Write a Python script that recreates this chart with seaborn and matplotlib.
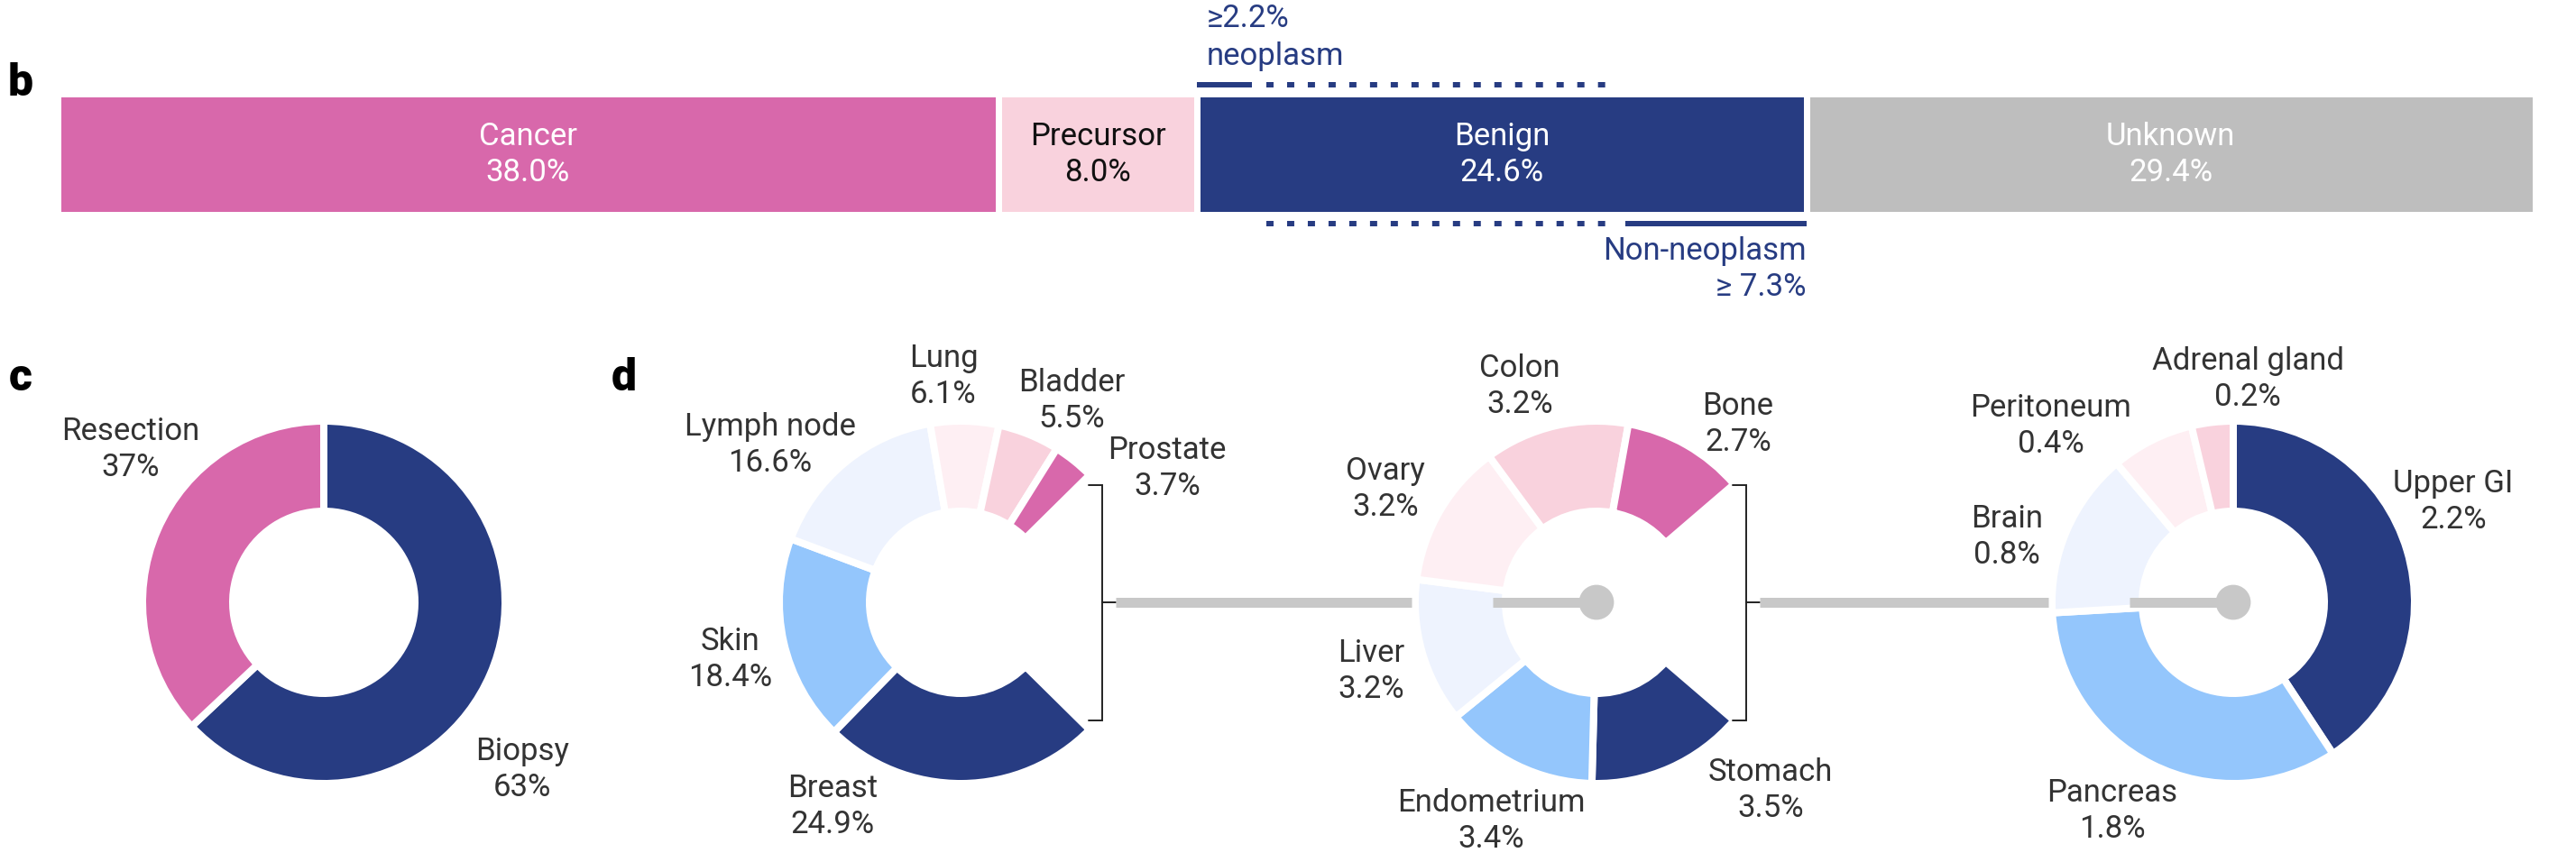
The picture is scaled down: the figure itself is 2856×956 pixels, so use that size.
import numpy as np
import pandas as pd
import matplotlib.pyplot as plt
from matplotlib.patches import Circle
import seaborn as sns

# panel b: diagnosis category
status = ["Cancer", "Precursor", "Benign", "Unknown"]
status_pct = [38.0, 8.0, 24.6, 29.4]
neoplasm_pct = 2.2
non_neoplasm_pct = 7.3

# panel c: specimen type
specimen = ["Biopsy", "Resection"]
specimen_pct = [63, 37]

# panel d: organ, each ring opens up the gap of the one before
organs_1 = ["Breast", "Skin", "Lymph node", "Lung", "Bladder", "Prostate"]
organs_1_pct = [24.9, 18.4, 16.6, 6.1, 5.5, 3.7]
organs_2 = ["Stomach", "Endometrium", "Liver", "Ovary", "Colon", "Bone"]
organs_2_pct = [3.5, 3.4, 3.2, 3.2, 3.2, 2.7]
organs_3 = ["Upper GI", "Pancreas", "Brain", "Peritoneum", "Adrenal gland"]
organs_3_pct = [2.2, 1.8, 0.8, 0.4, 0.2]

# colours
PINK = "#D868AB"
LPINK = "#F9D2DD"
VLPINK = "#FEEFF3"
NAVY = "#273C82"
LBLUE = "#94C6FC"
VLBLUE = "#EEF3FE"
GREY = "#BEBEBE"
LINE_GREY = "#C8C8C8"
TXT = "#333333"
status_colors = [PINK, LPINK, NAVY, GREY]
status_text = ["white", "#111111", "white", "white"]
ring_colors = [NAVY, LBLUE, VLBLUE, VLPINK, LPINK, PINK]

# layout (pixels, from top-left)
W, H = 2856, 956
DPI = 200
FS = 12.5
LINE = 40
R_OUT, R_IN = 197, 105
CY = 668
centers = {"c": 359, "d1": 1065, "d2": 1770, "d3": 2476}
label_pos = {
    "Resection": (145, 488), "Biopsy": (579, 843),
    "Breast": (923, 884), "Skin": (810, 721), "Lymph node": (854, 483),
    "Lung": (1046, 407), "Bladder": (1188, 434), "Prostate": (1294, 509),
    "Stomach": (1963, 866), "Endometrium": (1653, 900), "Liver": (1520, 734),
    "Ovary": (1536, 532), "Colon": (1685, 418), "Bone": (1927, 460),
    "Upper GI": (2720, 546), "Pancreas": (2342, 889), "Brain": (2225, 585),
    "Peritoneum": (2274, 462), "Adrenal gland": (2492, 410),
}
BAR_L, BAR_R, BAR_T, BAR_B = 67, 2807, 107, 234
BAR_EDGE = 7
RING_EDGE = 8


def pt(px):
    return px * 72 / DPI


sns.set_theme(style="white")
plt.rcParams["font.family"] = ["Roboto", "DejaVu Sans"]

fig = plt.figure(figsize=(W / DPI, H / DPI), dpi=DPI)
ax = fig.add_axes([0, 0, 1, 1])

# ---- panel b: stacked bar (seaborn, overlaid cumulative bars) ----
e = BAR_EDGE / 2
ax_b = fig.add_axes([(BAR_L - e) / W, (H - BAR_B - e) / H,
                     (BAR_R - BAR_L + 2 * e) / W, (BAR_B - BAR_T + 2 * e) / H])
bar = pd.DataFrame({"status": status, "pct": status_pct,
                    "color": status_colors, "tcol": status_text})
bar["right"] = bar["pct"].cumsum()
bar["mid"] = bar["right"] - bar["pct"] / 2
for _, row in bar.iloc[::-1].iterrows():
    sns.barplot(x=[row["right"]], y=["all"], orient="h", color=row["color"],
                saturation=1, width=1, edgecolor="white",
                linewidth=pt(BAR_EDGE), ax=ax_b)
ax_b.set_xlim(0, bar["right"].iloc[-1])
ax_b.set_ylim(0.5, -0.5)
ax_b.axis("off")

top_px, bot_px = BAR_T - e, BAR_B + e


def fy(px):
    return (bot_px - px) / (bot_px - top_px)


tb = ax_b.get_xaxis_transform()
for _, row in bar.iterrows():
    ax_b.text(row["mid"], fy(161), row["status"], transform=tb, ha="center",
              va="baseline", color=row["tcol"], fontsize=FS)
    ax_b.text(row["mid"], fy(161 + LINE), f"{row['pct']:.1f}%", transform=tb,
              ha="center", va="baseline", color=row["tcol"], fontsize=FS)

benign = bar.set_index("status").loc["Benign"]
ben_r = benign["right"]
ben_l = ben_r - benign["pct"]
gap = 0.6
dot = (0, (1.33, 2.5))
lw_ann = pt(6)
ax_b.plot([ben_l, ben_l + neoplasm_pct], [fy(94)] * 2, transform=tb, color=NAVY,
          lw=lw_ann, solid_capstyle="butt", clip_on=False)
ax_b.plot([ben_l + neoplasm_pct + gap, ben_r - non_neoplasm_pct - gap], [fy(94)] * 2,
          transform=tb, color=NAVY, lw=lw_ann, ls=dot, clip_on=False)
ax_b.plot([ben_l + neoplasm_pct + gap, ben_r - non_neoplasm_pct - gap], [fy(248)] * 2,
          transform=tb, color=NAVY, lw=lw_ann, ls=dot, clip_on=False)
ax_b.plot([ben_r - non_neoplasm_pct, ben_r], [fy(248)] * 2, transform=tb, color=NAVY,
          lw=lw_ann, solid_capstyle="butt", clip_on=False)
ax_b.text(ben_l + 0.4, fy(30), f"≥{neoplasm_pct}%", transform=tb, ha="left",
          va="baseline", color=NAVY, fontsize=FS, clip_on=False)
ax_b.text(ben_l + 0.4, fy(72), "neoplasm", transform=tb, ha="left",
          va="baseline", color=NAVY, fontsize=FS, clip_on=False)
ax_b.text(ben_r, fy(288), "Non-neoplasm", transform=tb, ha="right",
          va="baseline", color=NAVY, fontsize=FS, clip_on=False)
ax_b.text(ben_r, fy(328), f"≥ {non_neoplasm_pct}%", transform=tb, ha="right",
          va="baseline", color=NAVY, fontsize=FS, clip_on=False)

# ---- donuts ----
wp = dict(width=R_OUT - R_IN + RING_EDGE, edgecolor="white", linewidth=pt(RING_EDGE))
rad = R_OUT + RING_EDGE / 2


def donut(vals, total, cx, start, colors):
    frac = np.array(vals, dtype=float) / total
    full = frac.sum() > 0.999
    ax.pie(frac, normalize=full, startangle=start, counterclock=False,
           colors=colors, radius=rad, center=(cx, H - CY), wedgeprops=wp,
           frame=True)


def two_lines(name, pct_txt):
    x, y = label_pos[name]
    ax.text(x, H - y, name, ha="center", va="baseline", color=TXT, fontsize=FS)
    ax.text(x, H - y - LINE, pct_txt, ha="center", va="baseline", color=TXT, fontsize=FS)


donut(specimen_pct, sum(specimen_pct), centers["c"], 90, [NAVY, PINK])
for n, v in zip(specimen, specimen_pct):
    two_lines(n, f"{v}%")

rest_1 = 100 - sum(organs_1_pct)
donut(organs_1_pct, 100, centers["d1"], -rest_1 / 100 * 180, ring_colors)
rest_2 = rest_1 - sum(organs_2_pct)
donut(organs_2_pct, rest_1, centers["d2"], -rest_2 / rest_1 * 180, ring_colors)
donut(organs_3_pct, sum(organs_3_pct), centers["d3"], 90, ring_colors[:5])
for names, vals in [(organs_1, organs_1_pct), (organs_2, organs_2_pct), (organs_3, organs_3_pct)]:
    for n, v in zip(names, vals):
        two_lines(n, f"{v}%")


# brackets and connectors
def bracket(x, top, bot):
    ax.plot([x - 15, x, x, x - 15], [H - top, H - top, H - bot, H - bot],
            color="#222222", lw=0.7, solid_joinstyle="miter")
    ax.plot([x, x + 15], [H - CY] * 2, color="#222222", lw=0.7)


def connector(x0, cx):
    kw = dict(color=LINE_GREY, lw=pt(11), solid_capstyle="butt")
    ax.plot([x0, cx - R_OUT - 8], [H - CY] * 2, **kw)
    ax.plot([cx - R_IN - 10, cx], [H - CY] * 2, **kw)
    ax.add_patch(Circle((cx, H - CY), 18, color=LINE_GREY, zorder=3))


bracket(1222, 538, 799)
connector(1237, centers["d2"])
bracket(1936, 538, 799)
connector(1951, centers["d3"])

# panel letters
for letter, x, y in [("b", 9, 106), ("c", 10, 433), ("d", 678, 433)]:
    ax.text(x, H - y, letter, ha="left", va="baseline", fontsize=18,
            fontweight="heavy", color="black")

ax.set_xlim(0, W)
ax.set_ylim(0, H)
ax.set_aspect("auto")
ax.axis("off")

fig.savefig("out.png", dpi=DPI)
